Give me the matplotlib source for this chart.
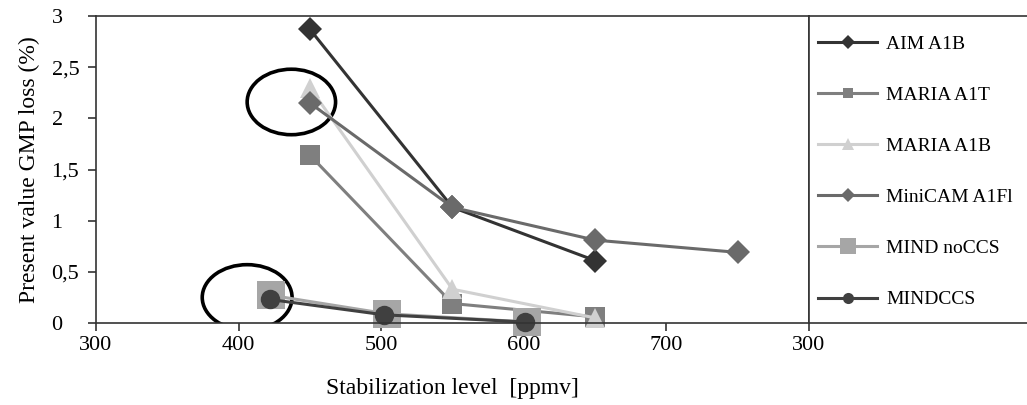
import matplotlib.pyplot as plt
from matplotlib.patches import Ellipse
from matplotlib.lines import Line2D

plt.rcParams['font.family'] = ['Liberation Serif', 'DejaVu Serif']

# data
aim_x = [450, 550, 650]
aim_y = [2.87, 1.13, 0.61]
maria_t_x = [450, 550, 650]
maria_t_y = [1.64, 0.19, 0.06]
maria_b_x = [450, 550, 650]
maria_b_y = [2.30, 0.33, 0.05]
minicam_x = [450, 550, 650, 750]
minicam_y = [2.15, 1.13, 0.81, 0.69]
mind_no_x = [423, 504, 602]
mind_no_y = [0.27, 0.09, 0.01]
mind_ccs_x = [422, 502, 601]
mind_ccs_y = [0.23, 0.08, 0.01]

x_ticks = [300, 400, 500, 600, 700, 800]
x_ticklabels = ['300', '400', '500', '600', '700', '300']
y_ticks = [0, 0.5, 1, 1.5, 2, 2.5, 3]
y_ticklabels = ['0', '0,5', '1', '1,5', '2', '2,5', '3']

fig = plt.figure(figsize=(10.27, 4.05), dpi=100)
ax = fig.add_axes([96/1027, 1-323/405, (809-96)/1027, (323-16)/405])

series = [
    ('AIM A1B', aim_x, aim_y, '#333333', 'D', 12, 7),
    ('MARIA A1T', maria_t_x, maria_t_y, '#7f7f7f', 's', 14, 7),
    ('MARIA A1B', maria_b_x, maria_b_y, '#d0d0d0', '^', 15, 8),
    ('MiniCAM A1Fl', minicam_x, minicam_y, '#6a6a6a', 'D', 12, 7),
    ('MIND noCCS', mind_no_x, mind_no_y, '#a6a6a6', 's', 20, 12),
    ('MINDCCS', mind_ccs_x, mind_ccs_y, '#404040', 'o', 14, 8),
]

handles = []
for name, xs, ys, c, m, ms, lms in series:
    ax.plot(xs, ys, color=c, marker=m, markersize=ms, linewidth=2.2,
            markeredgewidth=0, clip_on=False)
    handles.append(Line2D([], [], color=c, marker=m, markersize=lms,
                          linewidth=2.2, markeredgewidth=0, label=name))

# circled points
ax.add_patch(Ellipse((437, 2.16), 62, 0.64, fill=False, edgecolor='black', linewidth=2.6))
ax.add_patch(Ellipse((406, 0.25), 63, 0.64, fill=False, edgecolor='black', linewidth=2.6))

ax.set_xlim(300, 800)
ax.set_ylim(0, 3)
ax.set_xticks(x_ticks)
ax.set_xticklabels(x_ticklabels)
ax.set_yticks(y_ticks)
ax.set_yticklabels(y_ticklabels)
ax.tick_params(axis='both', direction='out', length=6, width=1.2, color='#333333',
               labelsize=16)
ax.tick_params(axis='y', pad=26)
for lab in ax.get_yticklabels():
    lab.set_horizontalalignment('left')
ax.tick_params(axis='x', pad=3)
for sp in ax.spines.values():
    sp.set_color('#333333')
    sp.set_linewidth(1.2)

ax.set_xlabel('Stabilization level  [ppmv]', fontsize=17, labelpad=17)
ax.set_ylabel('Present value GMP loss (%)', fontsize=17, labelpad=8)

# legend box to the right
lax = fig.add_axes([809/1027, 1-323/405, 0.25, (323-16)/405])
lax.set_xticks([])
lax.set_yticks([])
lax.spines['right'].set_visible(False)
for sp in lax.spines.values():
    sp.set_color('#333333')
    sp.set_linewidth(1.2)
lax.legend(handles=handles, loc='upper left', frameon=False, fontsize=14,
           labelspacing=1.72, handlelength=3.0, handletextpad=0.5,
           bbox_to_anchor=(-0.039, 1.0), borderaxespad=0.6)

fig.savefig('out.png', dpi=100)
